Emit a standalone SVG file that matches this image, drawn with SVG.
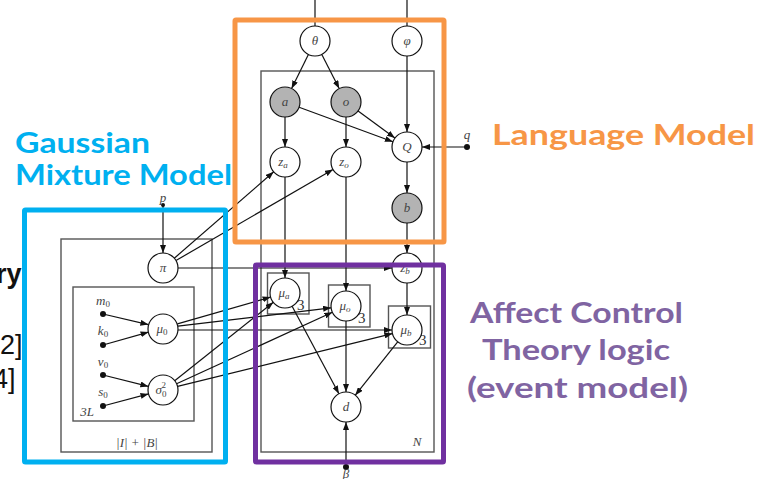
<svg xmlns="http://www.w3.org/2000/svg" width="765" height="479" viewBox="0 0 765 479">
<style>
.n{fill:#fff;stroke:#111;stroke-width:1.2}
.g{fill:#b3b3b3;stroke:#111;stroke-width:1.2}
.pl{fill:none;stroke:#555;stroke-width:1.4}
.e{fill:none;stroke:#111;stroke-width:1.2}
.ea{fill:none;stroke:#111;stroke-width:1.2;marker-end:url(#ah)}
.m{font-family:"Liberation Serif",serif;font-style:italic;font-size:13px;fill:#444;text-anchor:middle}
.s{font-size:9px}
.t3{font-family:"Liberation Serif",serif;font-size:15px;fill:#333}
.big{font-family:Lato,"Open Sans",sans-serif;font-weight:700;font-size:29px}
.side{font-family:"Liberation Sans",sans-serif;font-size:27px;fill:#111}
</style>
<defs>
<marker id="ah" markerWidth="8" markerHeight="6" refX="8" refY="3" orient="auto" markerUnits="userSpaceOnUse">
<path d="M0,0 L8,3 L0,6 z" fill="#111"/>
</marker>
</defs>
<rect width="765" height="479" fill="#fff"/>

<!-- left edge text -->
<text class="side" x="-4" y="283" font-weight="700">ry</text>
<text class="side" x="0" y="354">2]</text>
<text class="side" x="-7" y="388">4]</text>

<!-- plates -->
<g id="plates">
<rect class="pl" x="261" y="71" width="173" height="381"/>
<rect class="pl" x="61" y="239" width="151" height="213"/>
<rect class="pl" x="73" y="287" width="121" height="134"/>
<rect class="pl" x="267.5" y="273" width="41.5" height="41"/>
<rect class="pl" x="328.5" y="285" width="41.5" height="42"/>
<rect class="pl" x="388.5" y="306" width="42" height="42"/>
<text class="m" x="417" y="446" font-size="14">N</text>
<text class="m" x="137" y="447">|I| + |B|</text>
<text class="m" x="87" y="416">3L</text>
<text class="t3" x="297" y="310">3</text>
<text class="t3" x="358" y="323">3</text>
<text class="t3" x="419" y="345">3</text>
</g>

<!-- connectors -->
<g id="connectors">
<line class="e" x1="315" y1="0" x2="315" y2="26"/>
<line class="e" x1="407" y1="0" x2="407" y2="26"/>
<line class="ea" x1="308.4" y1="54.5" x2="291.6" y2="88.5"/>
<line class="ea" x1="321.8" y1="54.4" x2="339.2" y2="88.6"/>
<line class="ea" x1="407" y1="56" x2="407" y2="132"/>
<line class="ea" x1="285" y1="117" x2="285" y2="147"/>
<line class="ea" x1="346" y1="117" x2="346" y2="147"/>
<line class="ea" x1="299.1" y1="107.2" x2="392.9" y2="141.8"/>
<line class="ea" x1="358.1" y1="110.9" x2="394.9" y2="138.1"/>
<line class="ea" x1="467" y1="147" x2="422" y2="147"/>
<line class="ea" x1="407" y1="162" x2="407" y2="193"/>
<line class="ea" x1="407" y1="223" x2="407" y2="253"/>
<line class="ea" x1="407" y1="283" x2="407" y2="315"/>
<line class="ea" x1="285" y1="177" x2="285" y2="278"/>
<line class="ea" x1="346" y1="177" x2="346" y2="291"/>
<line class="ea" x1="292.1" y1="306.2" x2="338.9" y2="393.8"/>
<line class="ea" x1="346" y1="321" x2="346" y2="392"/>
<line class="ea" x1="397.7" y1="341.8" x2="355.3" y2="395.2"/>
<line class="ea" x1="346" y1="467" x2="346" y2="422"/>
<line class="ea" x1="163" y1="205" x2="163" y2="253"/>
<line class="ea" x1="174.3" y1="258.2" x2="273.7" y2="171.8"/>
<line class="ea" x1="176" y1="260.5" x2="333" y2="169.5"/>
<line class="ea" x1="178" y1="268" x2="392" y2="268"/>
<line class="ea" x1="103" y1="314" x2="148.4" y2="324.6"/>
<line class="ea" x1="103" y1="345" x2="148.6" y2="332.1"/>
<line class="ea" x1="103" y1="375" x2="148.4" y2="386.4"/>
<line class="ea" x1="103" y1="406" x2="148.5" y2="393.9"/>
<line class="ea" x1="177.4" y1="323.9" x2="270.6" y2="297.1"/>
<line class="ea" x1="177.9" y1="326.2" x2="331.1" y2="307.8"/>
<line class="ea" x1="178" y1="330" x2="392" y2="330"/>
<line class="ea" x1="174.7" y1="380.7" x2="273.3" y2="302.3"/>
<line class="ea" x1="176.6" y1="383.7" x2="332.4" y2="312.3"/>
<line class="ea" x1="177.6" y1="386.4" x2="392.4" y2="333.6"/>
</g>

<!-- nodes -->
<g id="theta"><circle class="n" cx="315" cy="41" r="15"/><text class="m" x="315" y="45">θ</text></g>
<g id="phi"><circle class="n" cx="407" cy="41" r="15"/><text class="m" x="407" y="45">φ</text></g>
<g id="a"><circle class="g" cx="285" cy="102" r="15"/><text class="m" x="285" y="106">a</text></g>
<g id="o"><circle class="g" cx="346" cy="102" r="15"/><text class="m" x="346" y="106">o</text></g>
<g id="Q"><circle class="n" cx="407" cy="147" r="15"/><text class="m" x="407" y="151">Q</text></g>
<g id="q"><circle cx="467" cy="147" r="3" fill="#111"/><text class="m" x="467" y="139" font-size="11">q</text></g>
<g id="za"><circle class="n" cx="285" cy="162" r="15"/><text class="m" x="283" y="166">z<tspan class="s" dy="2">a</tspan></text></g>
<g id="zo"><circle class="n" cx="346" cy="162" r="15"/><text class="m" x="344" y="166">z<tspan class="s" dy="2">o</tspan></text></g>
<g id="b"><circle class="g" cx="407" cy="208" r="15"/><text class="m" x="407" y="212">b</text></g>
<g id="zb"><circle class="n" cx="407" cy="268" r="15"/><text class="m" x="405" y="272">z<tspan class="s" dy="2">b</tspan></text></g>
<g id="mua"><circle class="n" cx="285" cy="293" r="15"/><text class="m" x="284" y="297">μ<tspan class="s" dy="2">a</tspan></text></g>
<g id="muo"><circle class="n" cx="346" cy="306" r="15"/><text class="m" x="345" y="310">μ<tspan class="s" dy="2">o</tspan></text></g>
<g id="mub"><circle class="n" cx="407" cy="330" r="15"/><text class="m" x="406" y="334">μ<tspan class="s" dy="2">b</tspan></text></g>
<g id="d"><circle class="n" cx="346" cy="407" r="15"/><text class="m" x="346" y="411">d</text></g>
<g id="beta"><circle cx="346" cy="467" r="3" fill="#111"/><text class="m" x="346" y="478" font-size="10">β</text></g>
<g id="pi"><circle class="n" cx="163" cy="268" r="15"/><text class="m" x="163" y="272">π</text></g>
<g id="p"><circle cx="163" cy="205" r="2" fill="#111"/><text class="m" x="163" y="202" font-size="10">p</text></g>
<g id="mu0"><circle class="n" cx="163" cy="329" r="15"/><text class="m" x="162" y="333">μ<tspan class="s" dy="2" font-style="normal">0</tspan></text></g>
<g id="sigma0"><circle class="n" cx="163" cy="390" r="15"/><text class="m" x="161" y="394">σ<tspan class="s" dy="3" font-style="normal">0</tspan><tspan class="s" dx="-5" dy="-9" font-style="normal">2</tspan></text></g>
<g id="m0"><circle cx="103" cy="314" r="3" fill="#111"/><text class="m" x="103" y="305">m<tspan class="s" dy="2" font-style="normal">0</tspan></text></g>
<g id="k0"><circle cx="103" cy="345" r="3" fill="#111"/><text class="m" x="103" y="335">k<tspan class="s" dy="2" font-style="normal">0</tspan></text></g>
<g id="v0"><circle cx="103" cy="375" r="3" fill="#111"/><text class="m" x="103" y="366">v<tspan class="s" dy="2" font-style="normal">0</tspan></text></g>
<g id="s0"><circle cx="103" cy="406" r="3" fill="#111"/><text class="m" x="103" y="396">s<tspan class="s" dy="2" font-style="normal">0</tspan></text></g>

<!-- colored group boxes -->
<g id="language-model">
<rect x="235" y="20" width="209" height="222" fill="none" stroke="#F79646" stroke-width="5" rx="1"/>
<text class="big" x="492" y="145" fill="#F79646" textLength="263" lengthAdjust="spacingAndGlyphs">Language Model</text>
</g>
<g id="gmm">
<rect x="24.5" y="210" width="201" height="252" fill="none" stroke="#00B0F0" stroke-width="5" rx="1"/>
<text class="big" x="15" y="153" fill="#00B0F0" textLength="135" lengthAdjust="spacingAndGlyphs">Gaussian</text>
<text class="big" x="15" y="185" fill="#00B0F0" textLength="217" lengthAdjust="spacingAndGlyphs">Mixture Model</text>
</g>
<g id="act">
<rect x="255.5" y="265" width="188" height="197" fill="none" stroke="#7030A0" stroke-width="5" rx="1"/>
<text class="big" x="470" y="323" fill="#8064A2" textLength="213" lengthAdjust="spacingAndGlyphs">Affect Control</text>
<text class="big" x="482" y="360" fill="#8064A2" textLength="188" lengthAdjust="spacingAndGlyphs">Theory logic</text>
<text class="big" x="467" y="398" fill="#8064A2" textLength="221" lengthAdjust="spacingAndGlyphs">(event model)</text>
</g>
</svg>
